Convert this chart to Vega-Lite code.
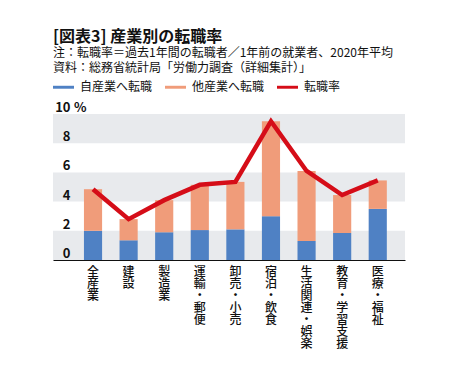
{
  "$schema": "https://vega.github.io/schema/vega-lite/v6.json",
  "width": 352,
  "height": 146,
  "autosize": {"type": "none"},
  "padding": {"left": 53, "top": 114, "right": 50, "bottom": 111},
  "background": "white",
  "config": {
    "font": "Noto Sans CJK JP",
    "view": {"stroke": null}
  },
  "title": {
    "text": "[図表3] 産業別の転職率",
    "subtitle": ["注：転職率＝過去1年間の転職者／1年前の就業者、2020年平均", "資料：総務省統計局「労働力調査（詳細集計）」"],
    "anchor": "start",
    "frame": "group",
    "font": "Noto Sans CJK JP",
    "fontSize": 16,
    "fontWeight": "bold",
    "color": "#111111",
    "subtitleFont": "Noto Sans CJK JP",
    "subtitleFontSize": 12,
    "subtitleColor": "#111111",
    "subtitleLineHeight": 15,
    "subtitlePadding": 3,
    "offset": 3
  },
  "datasets": {
    "bands": [
      {"lo": 0, "hi": 2},
      {"lo": 4, "hi": 6},
      {"lo": 8, "hi": 10}
    ],
    "rates": [
      {"industry": "全産業", "self": 2.0, "rate": 4.85},
      {"industry": "建設", "self": 1.35, "rate": 2.8},
      {"industry": "製造業", "self": 1.9, "rate": 4.1},
      {"industry": "運輸・郵便", "self": 2.05, "rate": 5.15},
      {"industry": "卸売・小売", "self": 2.1, "rate": 5.35},
      {"industry": "宿泊・飲食", "self": 3.0, "rate": 9.5},
      {"industry": "生活関連・娯楽", "self": 1.3, "rate": 6.1},
      {"industry": "教育・学習支援", "self": 1.85, "rate": 4.45},
      {"industry": "医療・福祉", "self": 3.5, "rate": 5.45}
    ]
  },
  "encoding": {
    "y": {
      "type": "quantitative",
      "scale": {"domain": [0, 10], "nice": false},
      "axis": {
        "zindex": 2,
        "values": [0, 2, 4, 6, 8, 10],
        "title": "%",
        "titleAngle": 0,
        "titleX": 20.5,
        "titleY": -2.5,
        "titleAlign": "left",
        "titleBaseline": "alphabetic",
        "titleFontSize": 13,
        "titleFontWeight": "bold",
        "titleColor": "#111111",
        "titleFont": "Noto Sans CJK JP",
        "grid": false,
        "domain": false,
        "ticks": false,
        "tickSize": 0,
        "labelAlign": "right",
        "labelBaseline": "alphabetic",
        "labelPadding": -17,
        "labelOffset": -2.5,
        "labelOverlap": false,
        "labelFlush": false,
        "labelBound": false,
        "labelFontSize": 13,
        "labelFontWeight": "bold",
        "labelColor": "#111111"
      }
    }
  },
  "layer": [
    {
      "data": {"name": "bands"},
      "mark": {"type": "rect", "color": "#e8eaed"},
      "encoding": {
        "y": {"field": "lo"},
        "y2": {"field": "hi"}
      }
    },
    {
      "data": {"name": "rates"},
      "encoding": {
        "x": {
          "field": "industry",
          "type": "nominal",
          "sort": null,
          "scale": {"paddingInner": 0.49, "paddingOuter": 0.69, "align": 0.63},
          "axis": {
            "zindex": 2,
            "title": null,
            "labelAngle": 0,
            "labelExpr": "split(datum.label, '')",
            "labelBaseline": "top",
            "labelAlign": "center",
            "labelFontSize": 12,
            "labelLineHeight": 12,
            "labelFontWeight": 500,
            "labelColor": "#111111",
            "labelPadding": 6,
            "labelOverlap": false,
            "ticks": false,
            "domainColor": "#111111",
            "domainWidth": 1.2
          }
        }
      },
      "layer": [
        {
          "mark": {"type": "bar"},
          "encoding": {
            "y": {"field": "self"},
            "y2": {"datum": 0},
            "color": {
              "datum": "自産業へ転職",
              "type": "nominal",
              "scale": {
                "domain": ["自産業へ転職", "他産業へ転職", "転職率"],
                "range": ["#4f81c4", "#f09c7a", "#d50d18"]
              },
              "legend": {
                "title": null,
                "orient": "none",
                "direction": "horizontal",
                "legendX": 0,
                "legendY": -37.5,
                "symbolType": "M -1 -0.14 H 1 V 0.14 H -1 Z",
                "symbolSize": 441,
                "symbolStrokeWidth": 0,
                "labelFontSize": 12,
                "labelColor": "#111111",
                "labelOffset": 6,
                "columnPadding": 12,
                "padding": 0
              }
            }
          }
        },
        {
          "mark": {"type": "bar"},
          "encoding": {
            "y": {"field": "rate"},
            "y2": {"field": "self"},
            "color": {"datum": "他産業へ転職", "type": "nominal"}
          }
        },
        {
          "mark": {"type": "line", "strokeWidth": 4.5, "strokeJoin": "miter"},
          "encoding": {
            "y": {"field": "rate"},
            "color": {"datum": "転職率", "type": "nominal"}
          }
        }
      ]
    }
  ]
}
